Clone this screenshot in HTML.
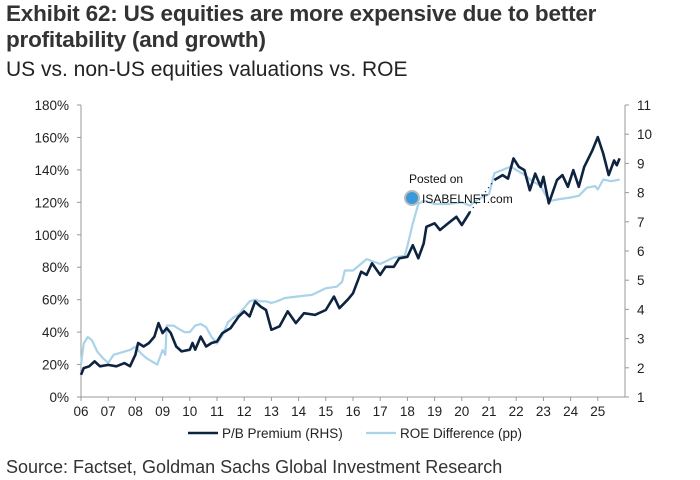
<!DOCTYPE html>
<html><head><meta charset="utf-8"><style>
body{margin:0;background:#fff;font-family:"Liberation Sans",sans-serif;}
#wrap{position:relative;width:700px;height:480px;overflow:hidden;}
.t{position:absolute;left:6px;color:#222;white-space:nowrap;}
</style></head><body>
<div id="wrap">
<div class="t" style="top:1px;font-size:22.5px;font-weight:bold;line-height:26px;color:#333;letter-spacing:-0.2px">Exhibit 62: US equities are more expensive due to better<br>profitability (and growth)</div>
<div class="t" style="top:58px;font-size:21px;color:#222">US vs. non-US equities valuations vs. ROE</div>
<div class="t" style="top:457px;font-size:18px;color:#333">Source: Factset, Goldman Sachs Global Investment Research</div>
<svg id="c" width="700" height="480" style="position:absolute;left:0;top:0"></svg>
</div>
<script>
const years=["06","07","08","09","10","11","12","13","14","15","16","17","18","19","20","21","22","23","24","25"];
const leftTicks=[0,20,40,60,80,100,120,140,160,180];
const rightTicks=[1,2,3,4,5,6,7,8,9,10,11];
const roeT=[2006,2006.1,2006.25,2006.4,2006.6,2006.8,2007,2007.2,2007.4,2007.6,2007.8,2008,2008.2,2008.4,2008.6,2008.8,2009,2009.1,2009.15,2009.4,2009.6,2009.8,2010,2010.2,2010.4,2010.6,2010.8,2011,2011.2,2011.4,2011.6,2011.8,2012,2012.2,2012.4,2012.6,2012.8,2013,2013.2,2013.5,2014,2014.5,2015,2015.4,2015.6,2015.7,2016,2016.5,2017,2017.5,2017.9,2018,2018.2,2018.4,2018.6,2019,2019.5,2020,2020.3,2020.6,2021,2021.2,2021.5,2021.8,2022,2022.3,2022.6,2022.9,2023.1,2023.3,2023.6,2024,2024.3,2024.6,2024.9,2025,2025.2,2025.5,2025.8];
const roeV=[20,33,37,35,28,24,21,26,27,28,29,31,27,24,22,20,29,26,44,44,42,40,40,44,45,43,37,33,38,46,49,51,55,59,60,59,59,58,59,61,62,63,67,68,71,78,78,85,82,86,87,93,107,119,121,119,119,120,118,122,125,138,140,142,140,137,133,130,124,121,122,123,124,129,130,128,134,133,134];
const pbT1=[2006,2006.1,2006.3,2006.5,2006.7,2007,2007.3,2007.6,2007.8,2008,2008.1,2008.3,2008.5,2008.7,2008.85,2009,2009.15,2009.3,2009.5,2009.7,2010,2010.1,2010.2,2010.4,2010.6,2010.8,2011,2011.2,2011.5,2011.8,2012,2012.2,2012.4,2012.6,2012.8,2013,2013.3,2013.6,2013.9,2014.2,2014.6,2015,2015.3,2015.5,2015.8,2016,2016.3,2016.5,2016.7,2017,2017.2,2017.5,2017.7,2018,2018.2,2018.4,2018.6,2018.7,2019,2019.2,2019.5,2019.8,2020,2020.3];
const pbV1=[1.76,1.99,2.05,2.22,2.05,2.1,2.05,2.16,2.05,2.45,2.85,2.73,2.85,3.07,3.53,3.19,3.36,3.19,2.73,2.56,2.62,2.85,2.62,3.07,2.73,2.85,2.9,3.19,3.36,3.76,3.93,3.76,4.27,4.1,3.98,3.3,3.42,3.93,3.53,3.87,3.81,3.98,4.44,4.04,4.33,4.55,5.29,5.18,5.58,5.18,5.46,5.46,5.75,5.8,6.2,5.75,6.26,6.83,6.95,6.72,6.95,7.17,6.89,7.34];
const pbT2=[2021.2,2021.5,2021.7,2021.9,2022.1,2022.3,2022.5,2022.7,2022.9,2023,2023.2,2023.5,2023.7,2023.9,2024.1,2024.3,2024.5,2024.8,2025,2025.2,2025.4,2025.6,2025.7,2025.8];
const pbV2=[8.43,8.6,8.48,9.17,8.88,8.77,8.08,8.65,8.2,8.54,7.63,8.43,8.6,8.2,8.77,8.2,8.88,9.45,9.9,9.34,8.6,9.1,8.94,9.17];

const svg=document.getElementById('c');const NS='http://www.w3.org/2000/svg';
const X0=81,X1=625,YT=105,YB=397;
const x=t=>X0+(t-2006)*27.2;
const yL=v=>YB-(v/180)*(YB-YT);
const yR=v=>YB-((v-1)/10)*(YB-YT);
function mk(tag,a){const e=document.createElementNS(NS,tag);for(const k in a)e.setAttribute(k,a[k]);svg.appendChild(e);return e;}
let e;
e=mk('line',{x1:X0,y1:YT,x2:X0,y2:YB,stroke:'#999'});


e=mk('line',{x1:X1,y1:YT,x2:X1,y2:YB,stroke:'#999'});


e=mk('line',{x1:X0,y1:YB,x2:X1,y2:YB,stroke:'#999'});


leftTicks.forEach(v=>{mk('line',{x1:X0-4,x2:X0,y1:yL(v),y2:yL(v),stroke:'#999'});
 e=mk('text',{x:X0-12,y:yL(v)+5,'text-anchor':'end','font-size':13.5,fill:'#222'});e.textContent=v+'%';
 
 });
rightTicks.forEach(v=>{mk('line',{x1:X1,x2:X1+4,y1:yR(v),y2:yR(v),stroke:'#999'});
 e=mk('text',{x:X1+12,y:yR(v)+5,'font-size':13.5,fill:'#222'});e.textContent=v;
 
 });
years.forEach((s,i)=>{const xx=x(2006+i);mk('line',{x1:xx,x2:xx,y1:YB,y2:YB+4,stroke:'#999'});
 e=mk('text',{x:xx,y:YB+19,'text-anchor':'middle','font-size':13.5,fill:'#222'});e.textContent=s;
 
 });
function path(T,V,fy){return T.map((t,i)=>(i?'L':'M')+x(t).toFixed(1)+' '+fy(V[i]).toFixed(1)).join(' ');}
e=mk('path',{d:path(roeT,roeV,yL),fill:'none',stroke:'#a9d3e8','stroke-width':2.2,'stroke-linejoin':'round'});


e=mk('path',{d:path(pbT1,pbV1,yR),fill:'none',stroke:'#0d2340','stroke-width':2.6,'stroke-linejoin':'round'});


e=mk('path',{d:'M'+x(pbT1[pbT1.length-1])+' '+yR(pbV1[pbV1.length-1])+' L'+x(pbT2[0])+' '+yR(pbV2[0]),fill:'none',stroke:'#0d2340','stroke-width':1.5,'stroke-dasharray':'1 4'});


e=mk('path',{d:path(pbT2,pbV2,yR),fill:'none',stroke:'#0d2340','stroke-width':2.6,'stroke-linejoin':'round'});


e=mk('line',{x1:188,x2:218,y1:433,y2:433,stroke:'#0d2340','stroke-width':2.6});


e=mk('text',{x:222,y:438,'font-size':13.5,fill:'#222'});e.textContent='P/B Premium (RHS)';


e=mk('line',{x1:366,x2:396,y1:433,y2:433,stroke:'#a9d3e8','stroke-width':2.2});


e=mk('text',{x:400,y:438,'font-size':13.5,fill:'#222'});e.textContent='ROE Difference (pp)';


e=mk('text',{x:409,y:183,'font-size':12,fill:'#111'});e.textContent='Posted on';


e=mk('circle',{cx:412,cy:198,r:7,fill:'#3a9ad9',stroke:'#bbb','stroke-width':2});


e=mk('text',{x:422,y:203,'font-size':12,fill:'#111'});e.textContent='ISABELNET.com';


</script>
</body></html>
